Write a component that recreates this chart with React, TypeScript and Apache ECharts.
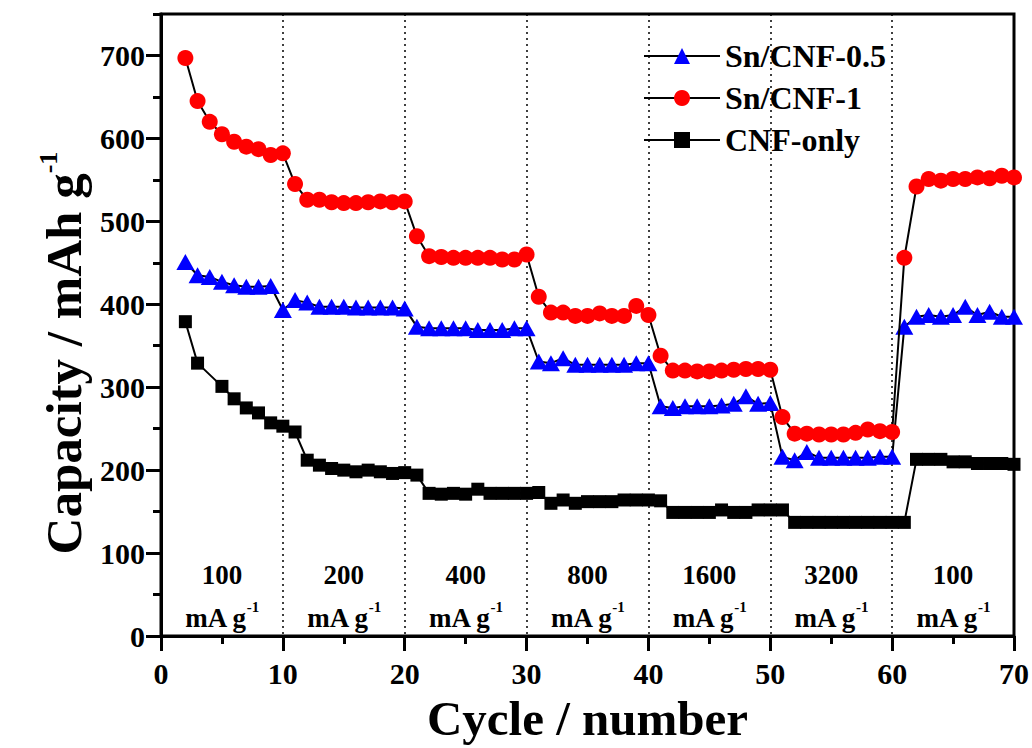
import React, { useEffect, useRef } from "react";
import * as echarts from "echarts";

// ---- data ----
const cycles = [
  2, 3, 4, 5, 6, 7, 8, 9, 10, 11, 12, 13, 14, 15, 16, 17, 18, 19, 20, 21, 22, 23, 24, 25, 26, 27, 28, 29, 30,
  31, 32, 33, 34, 35, 36, 37, 38, 39, 40, 41, 42, 43, 44, 45, 46, 47, 48, 49, 50, 51, 52, 53, 54, 55, 56, 57,
  58, 59, 60, 61, 62, 63, 64, 65, 66, 67, 68, 69, 70,
];
const snCnf05 = [
  451, 435, 433, 427, 423, 421, 421, 422, 393, 405, 402, 397, 397, 397, 396, 396, 396, 396, 395, 373, 371, 371,
  371, 371, 369, 369, 369, 371, 371, 331, 329, 335, 327, 327, 327, 327, 327, 329, 329, 277, 275, 277, 277, 277,
  278, 280, 289, 280, 281, 216, 212, 222, 215, 215, 215, 215, 215, 216, 216, 373, 385, 387, 385, 387, 397, 387,
  391, 385, 385,
];
const snCnf1 = [
  697, 645, 620, 605, 596, 590, 587, 580, 582, 545, 526, 526, 523, 522, 522, 523, 524, 523, 524, 482, 458, 457,
  456, 456, 456, 456, 454, 454, 460, 409, 390, 390, 386, 386, 389, 386, 386, 398, 387, 338, 320, 320, 319, 319,
  320, 321, 322, 322, 321, 264, 244, 244, 243, 243, 243, 245, 249, 247, 246, 456, 542, 551, 549, 551, 551, 553,
  552, 555, 553,
];
const cnfCycles = [
  2, 3, 5, 6, 7, 8, 9, 10, 11, 12, 13, 14, 15, 16, 17, 18, 19, 20, 21, 22, 23, 24, 25, 26, 27, 28, 29, 30, 31,
  32, 33, 34, 35, 36, 37, 38, 39, 40, 41, 42, 43, 44, 45, 46, 47, 48, 49, 50, 51, 52, 53, 54, 55, 56, 57, 58,
  59, 60, 61, 62, 63, 64, 65, 66, 67, 68, 69, 70,
];
const cnfOnly = [
  379, 329, 301, 286, 275, 269, 257, 253, 246, 212, 206, 202, 200, 198, 200, 198, 196, 197, 194, 172, 171, 172,
  171, 177, 172, 172, 172, 172, 173, 160, 164, 160, 162, 162, 162, 164, 164, 164, 163, 149, 149, 149, 149, 152,
  149, 149, 152, 152, 152, 137, 137, 137, 137, 137, 137, 137, 137, 137, 137, 213, 213, 213, 210, 210, 208, 208,
  208, 207,
];
const rateLabels = ["100", "200", "400", "800", "1600", "3200", "100"];
const rateCenters = [5, 15, 25, 35, 45, 55, 65];
const yMajorTicks = [0, 100, 200, 300, 400, 500, 600, 700];

const FONT = "'Liberation Serif', 'Times New Roman', serif";

function zip(xs: number[], ys: number[]) {
  return xs.map((x, i) => [x, ys[i]]);
}

export default function App() {
  const ref = useRef<HTMLDivElement>(null);
  useEffect(() => {
    const chart = echarts.init(ref.current!, null, { renderer: "svg" });
    const black = "#000";
    const lineStyle = { color: black, width: 2 };
    const option: any = {
      animation: false,
      backgroundColor: "#fff",
      grid: {
        left: 161,
        right: 17,
        top: 14,
        bottom: 112,
        show: true,
        borderColor: black,
        borderWidth: 3,
        backgroundColor: "transparent",
      },
      legend: {
        orient: "vertical",
        left: 638,
        top: 35,
        itemWidth: 76,
        itemHeight: 20,
        itemGap: 10,
        data: ["Sn/CNF-0.5", "Sn/CNF-1", "CNF-only"],
        textStyle: { fontFamily: FONT, fontWeight: "bold", fontSize: 32, color: black, lineHeight: 32 },
      },
      xAxis: {
        type: "value",
        min: 0,
        max: 70,
        interval: 10,
        name: "Cycle / number",
        nameLocation: "middle",
        nameGap: 58,
        nameTextStyle: { fontFamily: FONT, fontWeight: "bold", fontSize: 49, color: black },
        axisLine: { show: true, onZero: false, lineStyle: { color: black, width: 3 } },
        axisTick: { show: true, inside: false, length: 15, lineStyle: { color: black, width: 3 } },
        minorTick: { show: true, splitNumber: 2, length: 8, lineStyle: { color: black, width: 3 } },
        axisLabel: { fontFamily: FONT, fontWeight: "bold", fontSize: 30, color: black, margin: 22 },
        splitLine: { show: true, lineStyle: { type: [2, 4], color: black, width: 1.5 } },
      },
      yAxis: [
        {
          type: "value",
          min: 0,
          max: 750,
          interval: 50,
          name: "{a|Capacity / mAh g}{b|-1}",
          nameLocation: "middle",
          nameGap: 64,
          nameRotate: 90,
          nameTextStyle: {
            color: black,
            padding: [0, 56, 0, 0],
            rich: {
              a: { fontFamily: FONT, fontWeight: "bold", fontSize: 51, color: black, lineHeight: 56 },
              b: { fontFamily: FONT, fontWeight: "bold", fontSize: 26, color: black, verticalAlign: "top", lineHeight: 56 },
            },
          },
          axisLine: { show: true, onZero: false, lineStyle: { color: black, width: 3 } },
          axisTick: { show: true, inside: false, length: 15, customValues: yMajorTicks, lineStyle: { color: black, width: 3 } },
          axisLabel: {
            fontFamily: FONT,
            fontWeight: "bold",
            fontSize: 30,
            color: black,
            margin: 16,
            customValues: yMajorTicks,
            formatter: (v: number) => (v % 100 === 0 && v <= 700 ? String(v) : ""),
          },
          splitLine: { show: false },
        },
        {
          type: "value",
          min: 0,
          max: 750,
          interval: 50,
          position: "left",
          axisLine: { show: false },
          axisTick: { show: true, inside: false, length: 8, lineStyle: { color: black, width: 3 } },
          axisLabel: { show: false },
          splitLine: { show: false },
        },
      ],
      series: [
        {
          name: "Sn/CNF-0.5",
          type: "line",
          data: zip(cycles, snCnf05),
          symbol: "triangle",
          symbolSize: [18, 16],
          itemStyle: { color: "#0000ff" },
          lineStyle,
          z: 3,
        },
        {
          name: "Sn/CNF-1",
          type: "line",
          data: zip(cycles, snCnf1),
          symbol: "circle",
          symbolSize: 16,
          itemStyle: { color: "#ff0000" },
          lineStyle,
          z: 4,
        },
        {
          name: "CNF-only",
          type: "line",
          data: zip(cnfCycles, cnfOnly),
          symbol: "rect",
          symbolSize: 13,
          itemStyle: { color: black },
          lineStyle,
          z: 2,
        },
        {
          name: "rateValue",
          type: "scatter",
          silent: true,
          symbolSize: 0.01,
          itemStyle: { color: black, opacity: 1 },
          data: rateCenters.map((c, i) => ({ value: [c, 74], name: rateLabels[i] })),
          label: {
            show: true,
            position: "inside",
            formatter: "{b}",
            fontFamily: FONT,
            fontWeight: "bold",
            fontSize: 27,
            color: black,
            textBorderWidth: 0,
          },
        },
        {
          name: "rateUnit",
          type: "scatter",
          silent: true,
          symbolSize: 0.01,
          itemStyle: { color: black, opacity: 1 },
          data: rateCenters.map((c) => [c, 22]),
          label: {
            show: true,
            position: "inside",
            formatter: "{u|mA g}{s|-1}",
            textBorderWidth: 0,
            rich: {
              u: { fontFamily: FONT, fontWeight: "bold", fontSize: 27, color: black, lineHeight: 36, textBorderWidth: 0 },
              s: { fontFamily: FONT, fontWeight: "bold", fontSize: 15, color: black, verticalAlign: "top", lineHeight: 36, textBorderWidth: 0 },
            },
          },
        },
      ],
    };
    chart.setOption(option);
    return () => chart.dispose();
  }, []);
  return (
    <div
      ref={ref}
      style={{ position: "fixed", left: 0, top: 0, width: 1032, height: 748, background: "#fff" }}
    />
  );
}
